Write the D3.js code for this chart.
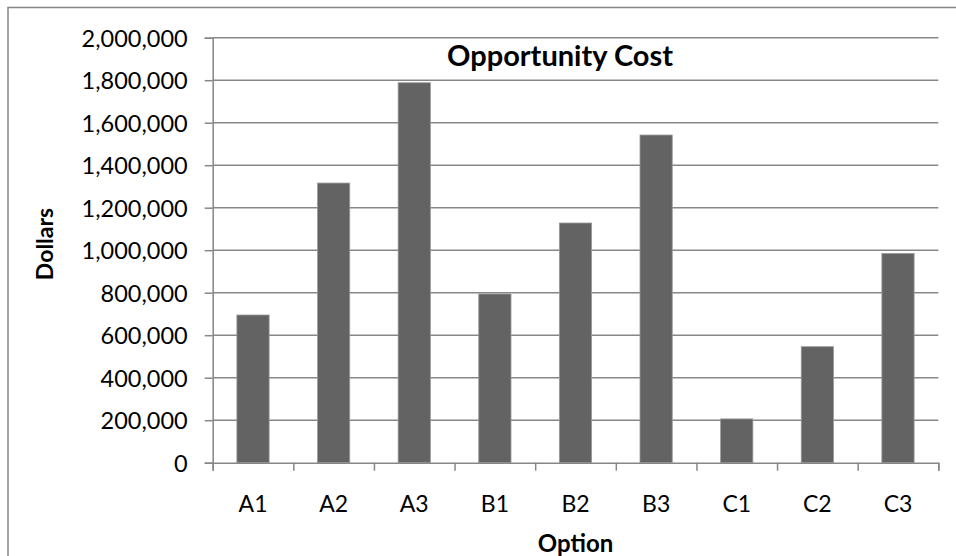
<!DOCTYPE html>
<html>
<head>
<meta charset="utf-8">
<script src="https://cdn.jsdelivr.net/npm/d3@7"></script>
<style>
  body { margin: 0; background: #fff; }
  text { font-family: Lato, "Open Sans", sans-serif; fill: #000; }
</style>
</head>
<body>
<div id="chart"></div>
<script>
const options = ["A1", "A2", "A3", "B1", "B2", "B3", "C1", "C2", "C3"];
const costs = [695000, 1316000, 1788000, 794000, 1128000, 1542000, 206000, 546000, 985000];
const yTicks = [0, 200000, 400000, 600000, 800000, 1000000, 1200000, 1400000, 1600000, 1800000, 2000000];

let width = 956;
let height = 556;
let plotLeft = 212.7, plotRight = 938.3, plotTop = 37.7, plotBottom = 462.7;
let gridColor = "#878787";

let svg = d3.select("#chart").append("svg")
  .attr("width", width)
  .attr("height", height);

// chart frame (runs off the right and bottom of the picture)
svg.append("rect")
  .attr("x", 8).attr("y", 7.5)
  .attr("width", 970).attr("height", 570)
  .attr("fill", "#fff")
  .attr("stroke", gridColor)
  .attr("stroke-width", 1.5);

let x = d3.scaleBand()
  .domain(options)
  .range([plotLeft, plotRight])
  .paddingInner(0.6)
  .paddingOuter(0.3);
let xEdges = d3.scaleLinear()
  .domain([0, options.length])
  .range([plotLeft, plotRight]);
let y = d3.scaleLinear()
  .domain([0, 2000000])
  .range([plotBottom, plotTop]);

// gridlines
svg.append("g").selectAll("line")
  .data(yTicks.slice(1))
  .enter().append("line")
  .attr("x1", plotLeft).attr("x2", plotRight)
  .attr("y1", d => y(d)).attr("y2", d => y(d))
  .attr("stroke", gridColor)
  .attr("stroke-width", 1.5);

// bars
svg.append("g").selectAll("rect")
  .data(options)
  .enter().append("rect")
  .attr("x", d => x(d))
  .attr("y", (d, i) => y(costs[i]))
  .attr("width", x.bandwidth())
  .attr("height", (d, i) => plotBottom - y(costs[i]))
  .attr("fill", "#636363")
  .attr("stroke", "#9a9a9a")
  .attr("stroke-width", 0.8);

// y axis
let yAxis = d3.axisLeft(y)
  .tickValues(yTicks)
  .tickSize(8)
  .tickPadding(17)
  .tickFormat(d3.format(","));
let gY = svg.append("g")
  .attr("transform", `translate(${plotLeft}, 0)`)
  .call(yAxis);
gY.selectAll("text").style("font-size", "23.5px").attr("dy", "0.36em");

// x axis: boundary ticks + category labels
let gXTicks = svg.append("g")
  .attr("transform", `translate(0, ${plotBottom})`)
  .call(d3.axisBottom(xEdges).ticks(options.length).tickSize(8).tickFormat(""));
let gX = svg.append("g")
  .attr("transform", `translate(0, ${plotBottom})`)
  .call(d3.axisBottom(x).tickSize(0).tickPadding(33));
gX.select(".domain").remove();
gX.selectAll("text").style("font-size", "23px");

[gY, gXTicks].forEach(g => {
  g.select(".domain").attr("stroke", gridColor).attr("stroke-width", 1.5);
  g.selectAll(".tick line").attr("stroke", gridColor).attr("stroke-width", 1.5);
});

// titles
svg.append("text")
  .text("Opportunity Cost")
  .attr("x", 560).attr("y", 66)
  .attr("text-anchor", "middle")
  .style("font-size", "29px")
  .style("font-weight", "bold");
svg.append("text")
  .text("Option")
  .attr("x", (plotLeft + plotRight) / 2).attr("y", 551.5)
  .attr("text-anchor", "middle")
  .style("font-size", "24px")
  .style("font-weight", "bold");
svg.append("text")
  .text("Dollars")
  .attr("transform", `translate(53, 244) rotate(-90)`)
  .attr("text-anchor", "middle")
  .style("font-size", "23px")
  .style("font-weight", "bold");
</script>
</body>
</html>
